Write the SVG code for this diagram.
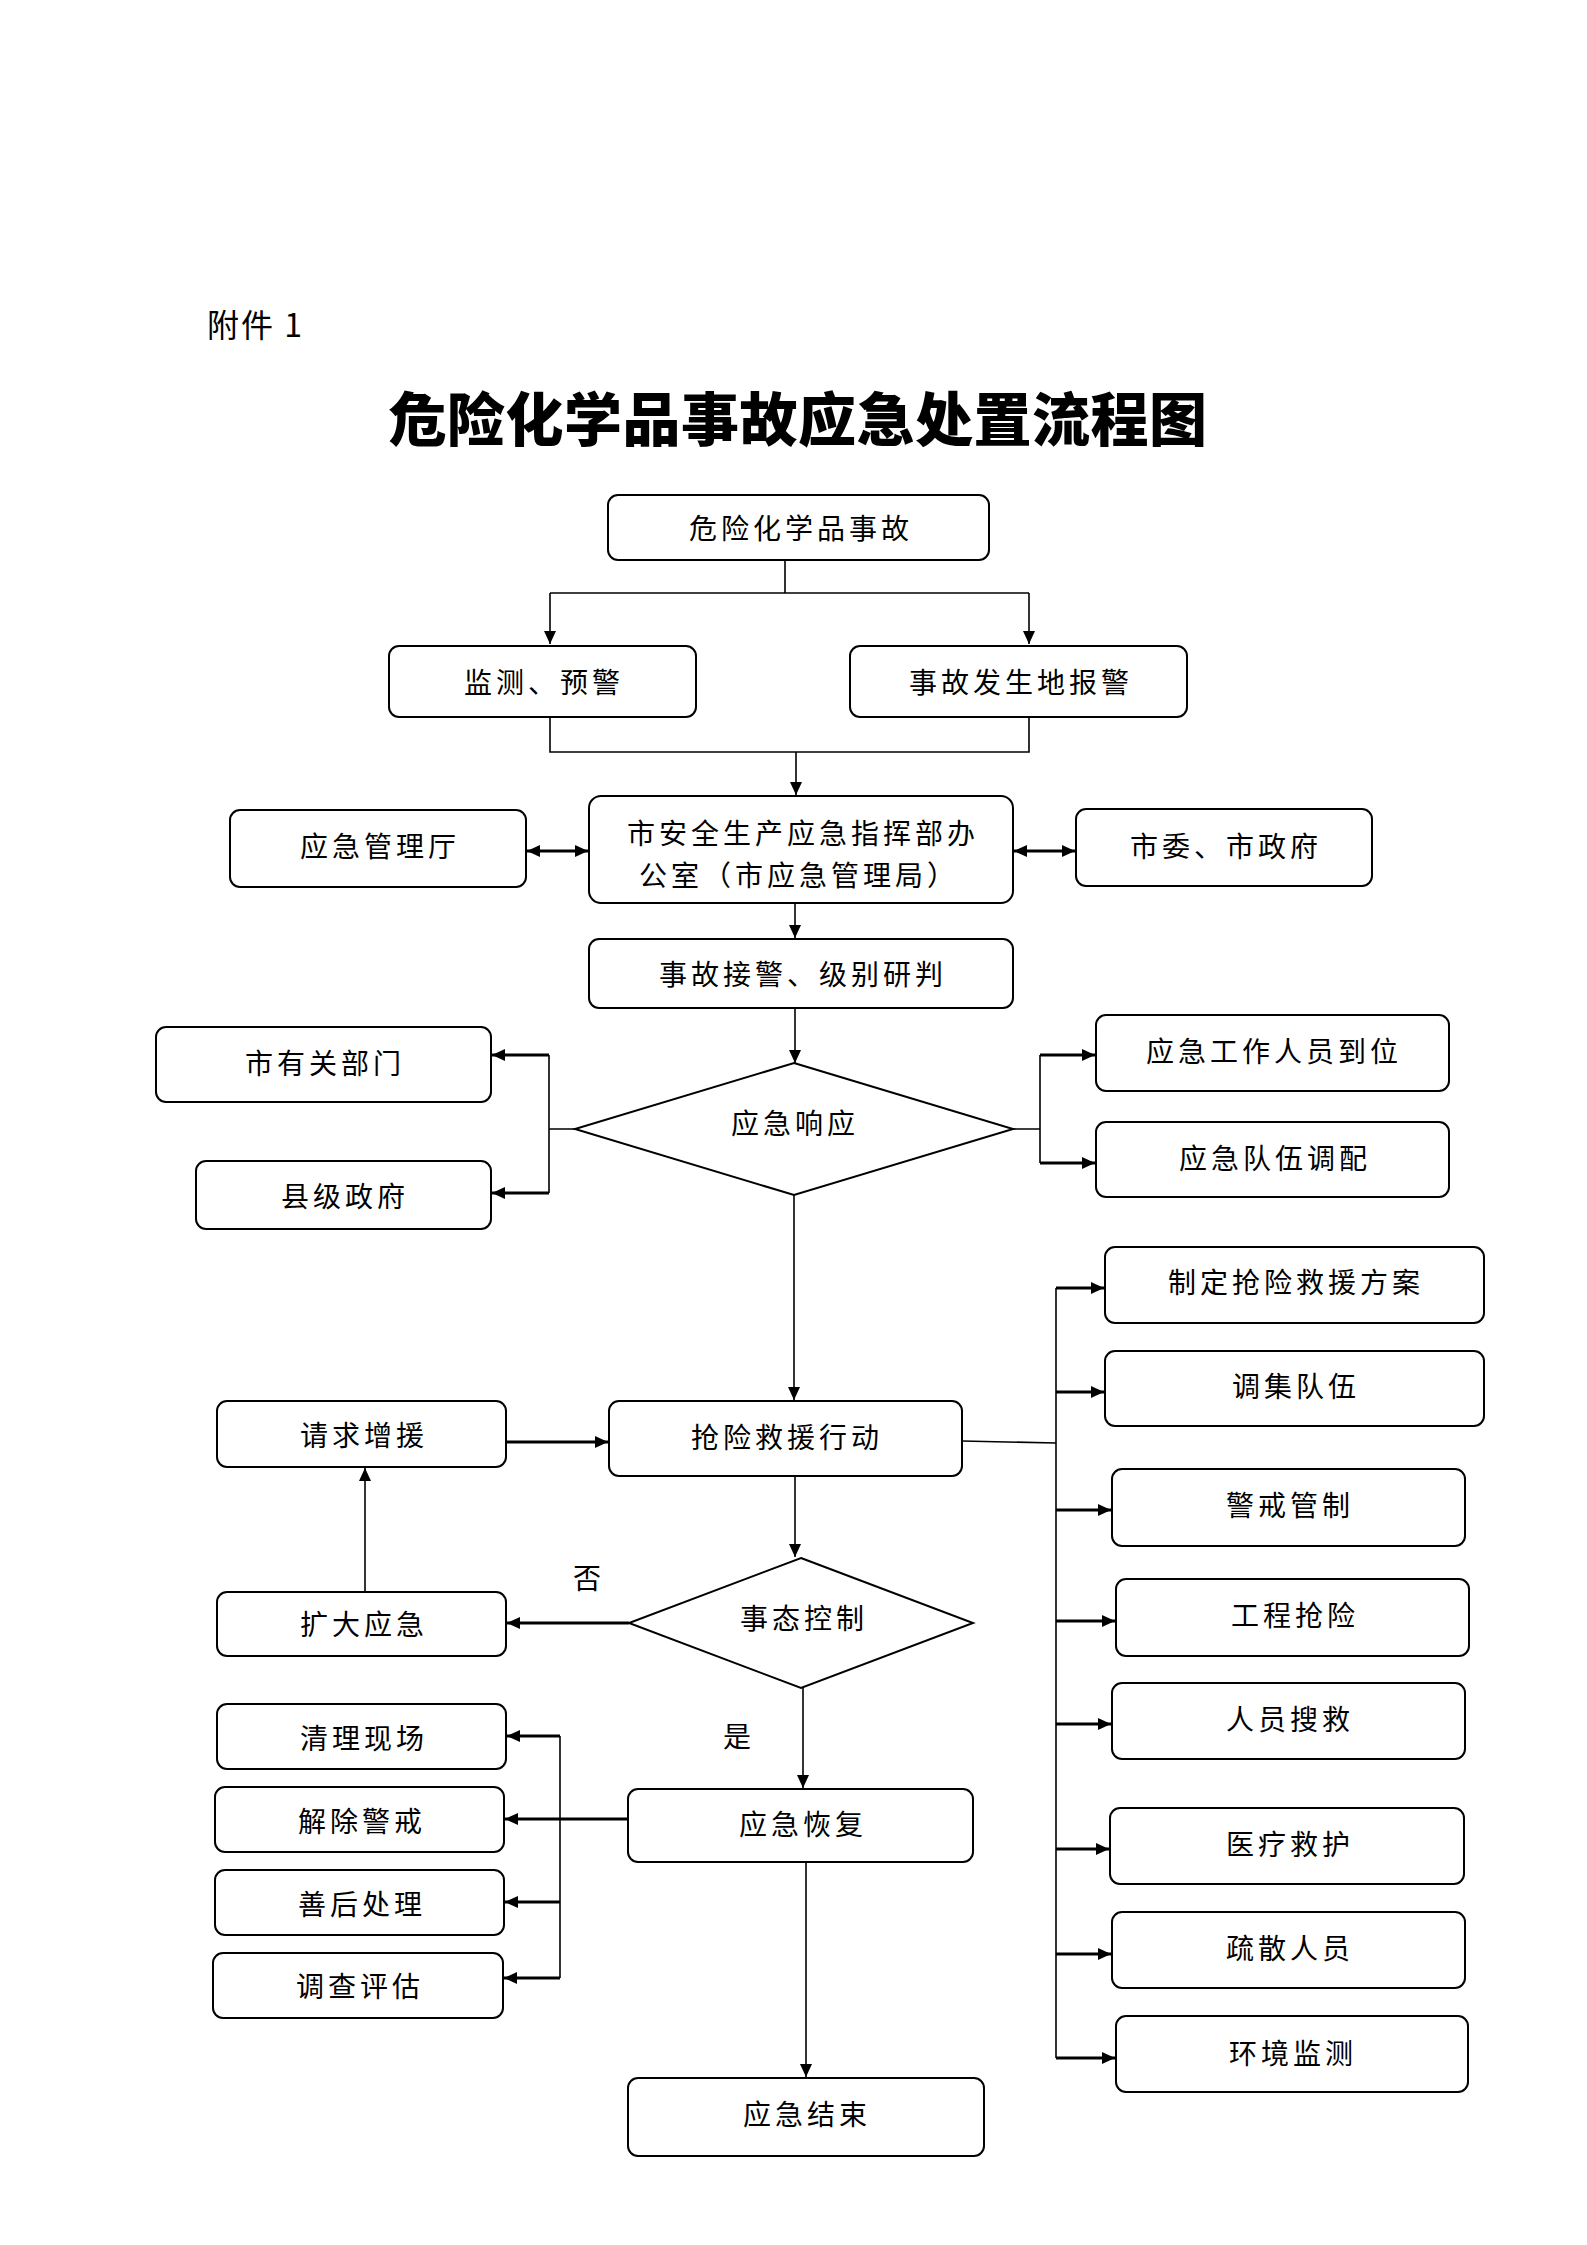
<svg xmlns="http://www.w3.org/2000/svg" width="1587" height="2245" viewBox="0 0 1587 2245">
<style>
.bx{fill:#fff;stroke:#000;stroke-width:2}
.dm{fill:#fff;stroke:#000;stroke-width:2}
.t{font-family:"Noto Sans CJK SC","Noto Sans CJK JP",sans-serif;font-size:28px;letter-spacing:4px;text-anchor:middle;dominant-baseline:central;fill:#000}
.c{fill:none;stroke:#000;stroke-width:1.6}
.cb{fill:none;stroke:#000;stroke-width:3}
</style>
<defs>
<marker id="a" markerUnits="userSpaceOnUse" markerWidth="14" markerHeight="12" refX="13" refY="6" orient="auto-start-reverse"><path d="M0,0 L13,6 L0,12 z" fill="#000"/></marker>
</defs>
<rect width="1587" height="2245" fill="#fff"/>
<text x="207" y="323" font-family="'Noto Sans CJK SC',sans-serif" font-size="32" letter-spacing="2" dominant-baseline="central">附件 1</text>
<text x="798" y="416" font-family="'Noto Sans CJK SC',sans-serif" font-size="58" font-weight="900" letter-spacing="0.5" text-anchor="middle" dominant-baseline="central">危险化学品事故应急处置流程图</text>

<g id="connectors">
<path class="c" d="M785,560 V593 M550,593 H1029"/>
<path class="c" d="M550,593 V644" marker-end="url(#a)"/>
<path class="c" d="M1029,593 V644" marker-end="url(#a)"/>
<path class="c" d="M550,717 V752 H1029 V717"/>
<path class="c" d="M796,752 V795" marker-end="url(#a)"/>
<path class="cb" d="M527,851 H588" marker-start="url(#a)" marker-end="url(#a)"/>
<path class="cb" d="M1014,851 H1075" marker-start="url(#a)" marker-end="url(#a)"/>
<path class="c" d="M795,903 V938" marker-end="url(#a)"/>
<path class="c" d="M795,1008 V1063" marker-end="url(#a)"/>
<path class="c" d="M575,1129 H549 M549,1055 V1193"/>
<path class="cb" d="M549,1055 H492" marker-end="url(#a)"/>
<path class="cb" d="M549,1193 H492" marker-end="url(#a)"/>
<path class="c" d="M1013,1129 H1040 M1040,1055 V1163"/>
<path class="cb" d="M1040,1055 H1095" marker-end="url(#a)"/>
<path class="cb" d="M1040,1163 H1095" marker-end="url(#a)"/>
<path class="c" d="M794,1195 V1400" marker-end="url(#a)"/>
<path class="cb" d="M506,1442 H608" marker-end="url(#a)"/>
<path class="c" d="M962,1441 L1056,1443"/>
<path class="c" d="M1056,1288 V2058"/>
<path class="cb" d="M1056,1288 H1104" marker-end="url(#a)"/>
<path class="cb" d="M1056,1392 H1104" marker-end="url(#a)"/>
<path class="cb" d="M1056,1510 H1111" marker-end="url(#a)"/>
<path class="cb" d="M1056,1621 H1115" marker-end="url(#a)"/>
<path class="cb" d="M1056,1724 H1111" marker-end="url(#a)"/>
<path class="cb" d="M1056,1849 H1109" marker-end="url(#a)"/>
<path class="cb" d="M1056,1954 H1111" marker-end="url(#a)"/>
<path class="cb" d="M1056,2058 H1115" marker-end="url(#a)"/>
<path class="c" d="M795,1476 V1557" marker-end="url(#a)"/>
<path class="cb" d="M629,1623 H507" marker-end="url(#a)"/>
<path class="c" d="M365,1592 V1468" marker-end="url(#a)"/>
<path class="c" d="M803,1688 V1788" marker-end="url(#a)"/>
<path class="cb" d="M628,1819 H505" marker-end="url(#a)"/>
<path class="c" d="M560,1736 V1978"/>
<path class="cb" d="M560,1736 H507" marker-end="url(#a)"/>
<path class="cb" d="M560,1902 H505" marker-end="url(#a)"/>
<path class="cb" d="M560,1978 H504" marker-end="url(#a)"/>
<path class="c" d="M806,1862 V2077" marker-end="url(#a)"/>
<text class="t" x="589" y="1577">否</text>
<text class="t" x="739" y="1735">是</text>
</g>

<g id="n_accident"><rect class="bx" x="608" y="495" width="381" height="65" rx="10"/><text class="t" x="801" y="527">危险化学品事故</text></g>
<g id="n_monitor"><rect class="bx" x="389" y="646" width="307" height="71" rx="10"/><text class="t" x="544" y="681">监测、预警</text></g>
<g id="n_report"><rect class="bx" x="850" y="646" width="337" height="71" rx="10"/><text class="t" x="1021" y="681">事故发生地报警</text></g>
<g id="n_office"><rect class="bx" x="589" y="796" width="424" height="107" rx="12"/><text class="t" x="803" y="832">市安全生产应急指挥部办</text><text class="t" x="799" y="874">公室（市应急管理局）</text></g>
<g id="n_mgmt"><rect class="bx" x="230" y="810" width="296" height="77" rx="10"/><text class="t" x="380" y="845">应急管理厅</text></g>
<g id="n_gov"><rect class="bx" x="1076" y="809" width="296" height="77" rx="10"/><text class="t" x="1226" y="845">市委、市政府</text></g>
<g id="n_judge"><rect class="bx" x="589" y="939" width="424" height="69" rx="10"/><text class="t" x="803" y="973">事故接警、级别研判</text></g>
<g id="n_response"><polygon class="dm" points="794,1063 1013,1129 794,1195 575,1129"/><text class="t" x="795" y="1122">应急响应</text></g>
<g id="n_dept"><rect class="bx" x="156" y="1027" width="335" height="75" rx="10"/><text class="t" x="325" y="1062">市有关部门</text></g>
<g id="n_county"><rect class="bx" x="196" y="1161" width="295" height="68" rx="10"/><text class="t" x="345" y="1195">县级政府</text></g>
<g id="n_staff"><rect class="bx" x="1096" y="1015" width="353" height="76" rx="10"/><text class="t" x="1274" y="1050">应急工作人员到位</text></g>
<g id="n_team"><rect class="bx" x="1096" y="1122" width="353" height="75" rx="10"/><text class="t" x="1275" y="1157">应急队伍调配</text></g>
<g id="n_plan"><rect class="bx" x="1105" y="1247" width="379" height="76" rx="10"/><text class="t" x="1296" y="1281">制定抢险救援方案</text></g>
<g id="n_gather"><rect class="bx" x="1105" y="1351" width="379" height="75" rx="10"/><text class="t" x="1296" y="1385">调集队伍</text></g>
<g id="n_rescue"><rect class="bx" x="609" y="1401" width="353" height="75" rx="10"/><text class="t" x="787" y="1436">抢险救援行动</text></g>
<g id="n_reinforce"><rect class="bx" x="217" y="1401" width="289" height="66" rx="10"/><text class="t" x="364" y="1434">请求增援</text></g>
<g id="n_cordon"><rect class="bx" x="1112" y="1469" width="353" height="77" rx="10"/><text class="t" x="1290" y="1504">警戒管制</text></g>
<g id="n_control"><polygon class="dm" points="801,1558 973,1623 801,1688 629,1623"/><text class="t" x="804" y="1617">事态控制</text></g>
<g id="n_expand"><rect class="bx" x="217" y="1592" width="289" height="64" rx="10"/><text class="t" x="364" y="1623">扩大应急</text></g>
<g id="n_eng"><rect class="bx" x="1116" y="1579" width="353" height="77" rx="10"/><text class="t" x="1295" y="1614">工程抢险</text></g>
<g id="n_search"><rect class="bx" x="1112" y="1683" width="353" height="76" rx="10"/><text class="t" x="1290" y="1718">人员搜救</text></g>
<g id="n_medical"><rect class="bx" x="1110" y="1808" width="354" height="76" rx="10"/><text class="t" x="1290" y="1843">医疗救护</text></g>
<g id="n_evac"><rect class="bx" x="1112" y="1912" width="353" height="76" rx="10"/><text class="t" x="1290" y="1947">疏散人员</text></g>
<g id="n_envmon"><rect class="bx" x="1116" y="2016" width="352" height="76" rx="10"/><text class="t" x="1293" y="2052">环境监测</text></g>
<g id="n_recover"><rect class="bx" x="628" y="1789" width="345" height="73" rx="10"/><text class="t" x="803" y="1823">应急恢复</text></g>
<g id="n_clean"><rect class="bx" x="217" y="1704" width="289" height="65" rx="10"/><text class="t" x="364" y="1737">清理现场</text></g>
<g id="n_lift"><rect class="bx" x="215" y="1787" width="289" height="65" rx="10"/><text class="t" x="362" y="1820">解除警戒</text></g>
<g id="n_after"><rect class="bx" x="215" y="1870" width="289" height="65" rx="10"/><text class="t" x="362" y="1903">善后处理</text></g>
<g id="n_investigate"><rect class="bx" x="213" y="1953" width="290" height="65" rx="10"/><text class="t" x="360" y="1985">调查评估</text></g>
<g id="n_end"><rect class="bx" x="628" y="2078" width="356" height="78" rx="10"/><text class="t" x="807" y="2113">应急结束</text></g>
</svg>
